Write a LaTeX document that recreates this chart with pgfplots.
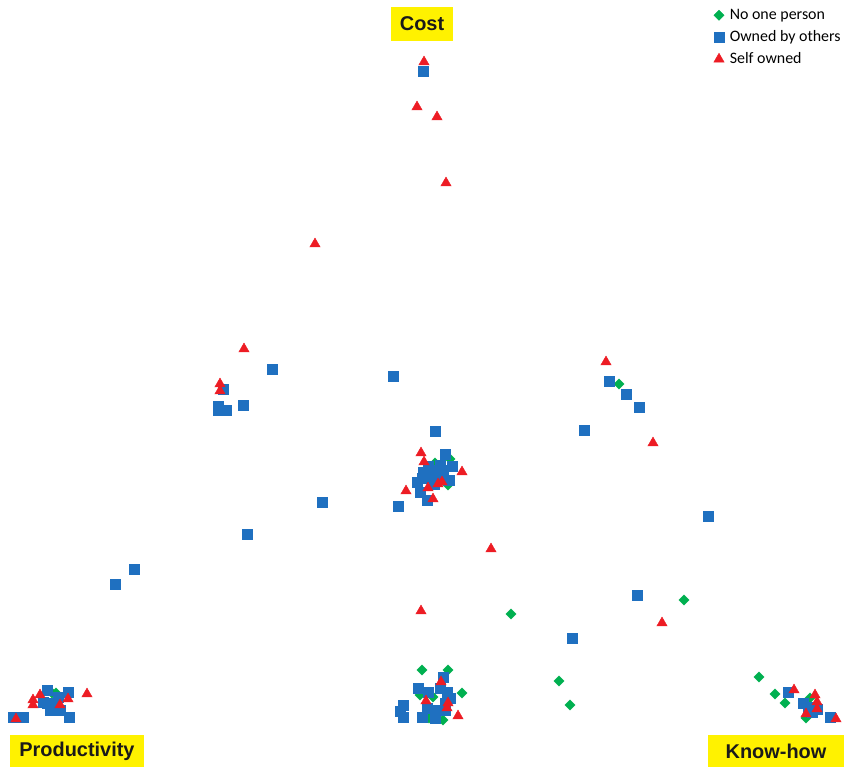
\documentclass[border=0pt]{standalone}
\usepackage{pgfplots}
\pgfplotsset{compat=1.18}
\usepackage{fontspec}
\setmainfont{Carlito}
\newfontfamily\arialfont{Liberation Sans}
\definecolor{cgreen}{RGB}{0,176,80}
\definecolor{cblue}{RGB}{31,112,192}
\definecolor{cred}{RGB}{237,28,36}
\definecolor{cyel}{RGB}{255,242,0}
\definecolor{ctext}{RGB}{26,26,26}
\begin{document}
\begin{tikzpicture}
\begin{axis}[
  scale only axis, width=847bp, height=769bp,
  xmin=0, xmax=847, ymin=0, ymax=769, y dir=reverse,
  hide axis, clip=false,
  legend style={draw=none, fill=none, at={(rel axis cs:0.8424,0.9909)}, anchor=north west,
    font=\fontsize{16}{18}\selectfont, row sep=6bp, inner sep=0pt,
    nodes={inner sep=0pt, text height=12bp, text depth=4bp},
    /tikz/every odd column/.append style={column sep=5.5bp}},
  legend cell align=left,
]
\path (rel axis cs:0,0) rectangle (rel axis cs:1,1);
% No one person
\addplot[only marks, mark=square*, mark size=3.6, mark options={rotate=45, fill=cgreen, draw=cgreen}] coordinates {
(619,384) (684,600) (511,614) (559,681) (570,705) (759,677) (775,694) (785,703)
(435,463) (450,459) (448,485)
(56,693) (52,693)
(422,670) (448,670) (462,693) (433,697) (420,695) (429,718) (443,720)
(806,718) (810,698) (813,710)
};
\addlegendentry{No one person}
% Owned by others
\addplot[only marks, mark=square*, mark size=5.3, mark options={fill=cblue, draw=cblue}] coordinates {
(423,71) (272,369) (393,376) (223,389) (218,406) (226,410) (218,410) (243,405)
(609,381) (626,394) (639,407) (584,430) (435,431) (708,516) (322,502) (247,534)
(134,569) (115,584) (637,595) (572,638)
(445,454) (452,466) (440,465) (423,472) (433,470) (417,482) (449,480) (420,492)
(427,500) (398,506) (430,477) (438,477) (422,478) (428,466) (443,470) (434,484)
(47,690) (68,692) (43,702) (50,710) (60,710) (69,717) (23,717) (13,717) (47,703) (53,703) (58,697)
(443,677) (418,688) (428,692) (440,688) (447,692) (450,698) (445,703) (400,711)
(403,705) (403,717) (422,717) (427,708) (435,710) (435,718) (445,710)
(788,692) (803,703) (808,707) (817,709) (830,717) (812,712)
};
\addlegendentry{Owned by others}
% Self owned
\addplot[only marks, mark=triangle*, mark size=6, mark options={fill=cred, draw=cred}] coordinates {
(424,62) (417,107) (437,117) (446,183) (315,244) (244,349) (220,384) (220,391)
(606,362) (653,443) (491,549) (421,611) (662,623)
(421,453) (424,462) (462,472) (406,491) (442,482) (438,484) (428,488) (433,499)
(33,700) (33,705) (40,695) (60,705) (68,699) (87,694) (16,719)
(441,682) (426,701) (448,703) (447,708) (458,716)
(794,690) (815,695) (817,702) (817,709) (806,714) (836,719)
};
\addlegendentry{Self owned}
\tikzset{lab/.style={fill=cyel, text=ctext, font=\arialfont\fontsize{20}{22}\selectfont\bfseries, inner sep=0pt, anchor=center}}
\node[lab, minimum width=62bp, minimum height=34bp] at (axis cs:422,24) {Cost};
\node[lab, minimum width=134bp, minimum height=32bp] at (axis cs:77,751) {Productivity};
\node[lab, minimum width=136bp, minimum height=32bp] at (axis cs:776,751) {Know-how};
\end{axis}
\end{tikzpicture}
\end{document}
